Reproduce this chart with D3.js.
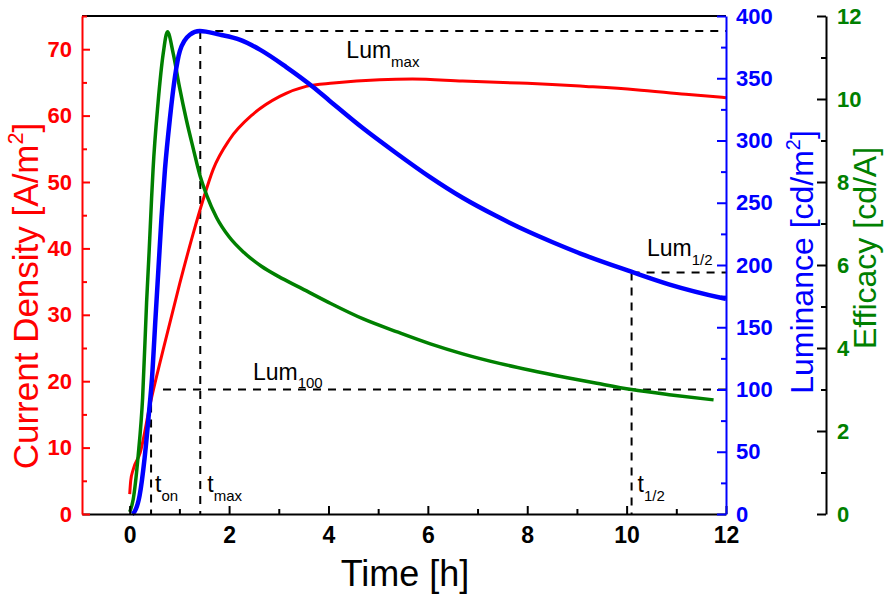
<!DOCTYPE html>
<html>
<head>
<meta charset="utf-8">
<script src="https://cdn.jsdelivr.net/npm/d3@7"></script>
<style>
    body { margin: 0; background: #fff; }
    text { font-family: 'Liberation Sans', Arial, sans-serif; }
</style>
</head>
<body>
<div class="oled-chart"></div>
<script>
// current density (left axis)
const curTime = [0, 0.02, 0.07, 0.21, 0.41, 0.675, 1.01, 1.28, 1.48, 1.68, 2.01, 2.48, 3.02, 3.55, 4.1, 5.03, 5.69, 6.7, 7.84, 8.5, 9.18, 10.18, 11.19, 12];
const curDensity = [3.0, 5.0, 6.7, 9.2, 16.5, 24.8, 34.8, 42.3, 47.4, 51.9, 56.4, 60.2, 62.9, 64.4, 64.9, 65.4, 65.5, 65.2, 64.9, 64.7, 64.4, 63.9, 63.2, 62.7];

// luminance (blue axis)
const lumTime = [0.05, 0.1, 0.2, 0.3, 0.38, 0.45, 0.52, 0.58, 0.64, 0.71, 0.81, 0.91, 1.01, 1.21, 1.41, 1.81, 2.21, 2.62, 3.15, 3.69, 4.02, 4.69, 5.36, 6.03, 6.7, 7.37, 8.04, 8.5, 9.18, 10.08, 10.85, 11.92, 12];
const luminance = [0, 2, 15, 45, 78, 110, 158, 198, 238, 277, 318, 351, 372, 385, 388, 385, 381, 373, 359, 343, 332, 310, 290, 271, 254, 239.5, 226.5, 218.5, 207.5, 194.8, 184.5, 173.5, 172.8];

// efficacy (green axis)
const effTime = [0, 0.07, 0.17, 0.26, 0.34, 0.39, 0.44, 0.47, 0.57, 0.675, 0.76, 0.875, 1.0, 1.14, 1.28, 1.42, 1.55, 1.75, 2.0, 2.3, 2.65, 3.0, 3.42, 4.0, 4.7, 5.4, 6.05, 6.7, 7.44, 8.04, 8.78, 9.4, 10.1, 10.9, 11.75];
const efficacy = [0.05, 0.35, 1.4, 2.8, 5.1, 6.3, 7.6, 8.3, 9.9, 11.1, 11.62, 11.1, 10.3, 9.5, 8.8, 8.13, 7.68, 7.14, 6.68, 6.3, 5.97, 5.72, 5.46, 5.1, 4.7, 4.38, 4.1, 3.86, 3.63, 3.47, 3.29, 3.15, 3.0, 2.87, 2.75];

// marker times (t_on, t_max, t_1/2) and luminance levels (Lum_100, Lum_max, Lum_1/2)
const markerTimes = [0.43, 1.42, 10.1];
const markerLums = [100, 388, 194];

// tick values
const timeTicks = [0, 2, 4, 6, 8, 10, 12];
const timeMinor = [1, 3, 5, 7, 9, 11];
const curTicks = [0, 10, 20, 30, 40, 50, 60, 70];
const curMinor = [5, 15, 25, 35, 45, 55, 65, 75];
const lumTicks = [0, 50, 100, 150, 200, 250, 300, 350, 400];
const lumMinor = [25, 75, 125, 175, 225, 275, 325, 375];
const effTicks = [0, 2, 4, 6, 8, 10, 12];
const effMinor = [1, 3, 5, 7, 9, 11];

const RED = '#ff0000';
const BLUE = '#0000ff';
const GREEN = '#008000';

createChart();

function createChart() {
    const width = 886;
    const height = 596;
    const left = 82, right = 726, top = 16, bottom = 514;
    const effAxisX = 826;

    const svg = d3.select('.oled-chart')
        .append('svg')
        .attr('width', width)
        .attr('height', height);

    const x = d3.scaleLinear().domain([-0.96, 12]).range([left, right]);
    const yCur = d3.scaleLinear().domain([0, 75]).range([bottom, top]);
    const yLum = d3.scaleLinear().domain([0, 400]).range([bottom, top]);
    const yEff = d3.scaleLinear().domain([0, 12]).range([bottom, top]);

    // dashed guide lines
    const [tOn, tMax, tHalf] = markerTimes;
    const [lum100, lumMax, lumHalf] = markerLums;
    const guides = [
        [[tMax, lumMax], [12, lumMax]],
        [[tMax, lumMax], [tMax, 0]],
        [[0.67, lum100], [12, lum100]],
        [[tOn, lum100], [tOn, 0]],
        [[tHalf, lumHalf], [12, lumHalf]],
        [[tHalf, lumHalf], [tHalf, 0]]
    ];
    svg.selectAll('.guide')
        .data(guides)
        .enter()
        .append('line')
        .attr('class', 'guide')
        .attr('x1', d => x(d[0][0]))
        .attr('y1', d => yLum(d[0][1]))
        .attr('x2', d => x(d[1][0]))
        .attr('y2', d => yLum(d[1][1]))
        .attr('stroke', '#000')
        .attr('stroke-width', 2)
        .attr('stroke-dasharray', '8,7');

    // curves
    const series = [
        { t: curTime, v: curDensity, y: yCur, color: RED, w: 3 },
        { t: effTime, v: efficacy, y: yEff, color: GREEN, w: 3.5 },
        { t: lumTime, v: luminance, y: yLum, color: BLUE, w: 4.5 }
    ];
    series.forEach(s => {
        const line = d3.line()
            .x((d, i) => x(s.t[i]))
            .y(d => s.y(d))
            .curve(d3.curveMonotoneX);
        svg.append('path')
            .datum(s.v)
            .attr('d', line)
            .attr('fill', 'none')
            .attr('stroke', s.color)
            .attr('stroke-width', s.w)
            .attr('stroke-linejoin', 'round');
    });

    // axes
    function styleAxis(g, color, labelColor, size) {
        g.select('.domain').attr('stroke', color).attr('stroke-width', 2);
        g.selectAll('.tick line').attr('stroke', color).attr('stroke-width', 2);
        g.selectAll('.tick text')
            .attr('fill', labelColor)
            .attr('font-size', size)
            .attr('font-weight', 'bold')
            .attr('font-family', "'Liberation Sans', Arial, sans-serif");
    }
    function minor(g, axis, values, color) {
        g.call(axis.tickValues(values).tickSize(-5).tickFormat(''));
        g.select('.domain').remove();
        g.selectAll('.tick line').attr('stroke', color).attr('stroke-width', 2);
    }

    // top border
    svg.append('line')
        .attr('x1', left).attr('x2', right)
        .attr('y1', top).attr('y2', top)
        .attr('stroke', '#000')
        .attr('stroke-width', 2);

    // bottom - time
    const xAxis = svg.append('g')
        .attr('transform', `translate(0,${bottom})`)
        .call(d3.axisBottom(x).tickValues(timeTicks).tickSize(-8).tickSizeOuter(0).tickPadding(13));
    styleAxis(xAxis, '#000', '#000', 23);
    minor(svg.append('g').attr('transform', `translate(0,${bottom})`), d3.axisBottom(x), timeMinor, '#000');

    // left - current density
    const curAxis = svg.append('g')
        .attr('transform', `translate(${left},0)`)
        .call(d3.axisLeft(yCur).tickValues(curTicks).tickSize(-8).tickSizeOuter(0).tickPadding(10));
    styleAxis(curAxis, RED, RED, 22);
    minor(svg.append('g').attr('transform', `translate(${left},0)`), d3.axisLeft(yCur), curMinor, RED);

    // right - luminance
    const lumAxis = svg.append('g')
        .attr('transform', `translate(${right},0)`)
        .call(d3.axisRight(yLum).tickValues(lumTicks).tickSize(-9).tickSizeOuter(0).tickPadding(10));
    styleAxis(lumAxis, BLUE, BLUE, 22);
    minor(svg.append('g').attr('transform', `translate(${right},0)`), d3.axisRight(yLum), lumMinor, BLUE);

    // far right - efficacy
    const effAxis = svg.append('g')
        .attr('transform', `translate(${effAxisX},0)`)
        .call(d3.axisRight(yEff).tickValues(effTicks).tickSize(-9).tickSizeOuter(0).tickPadding(11));
    styleAxis(effAxis, '#000', GREEN, 22);
    minor(svg.append('g').attr('transform', `translate(${effAxisX},0)`), d3.axisRight(yEff), effMinor, '#000');

    // axis titles
    svg.append('text')
        .attr('x', 405)
        .attr('y', 586)
        .attr('text-anchor', 'middle')
        .attr('font-size', 36)
        .text('Time [h]');

    function rotatedTitle(cx, cy, color, size, main, rest) {
        const t = svg.append('text')
            .attr('transform', `translate(${cx},${cy}) rotate(-90)`)
            .attr('text-anchor', 'middle')
            .attr('font-size', size)
            .attr('fill', color);
        t.append('tspan').text(main);
        if (rest) {
            t.append('tspan').attr('font-size', size * 0.62).attr('dy', -size * 0.42).text('2');
            t.append('tspan').attr('dy', size * 0.42).text(rest);
        }
    }
    rotatedTitle(38, 296, RED, 35, 'Current Density [A/m', ']');
    rotatedTitle(813, 262, BLUE, 32, 'Luminance [cd/m', ']');
    rotatedTitle(876, 248, GREEN, 32, 'Efficacy [cd/A]', null);

    // annotations
    function label(px, py, main, sub, size, subSize) {
        const t = svg.append('text')
            .attr('x', px)
            .attr('y', py)
            .attr('font-size', size)
            .attr('fill', '#000');
        t.append('tspan').text(main);
        t.append('tspan').attr('font-size', subSize).attr('dy', size * 0.38).text(sub);
    }
    label(x(4.36), yLum(lumMax) + 27, 'Lum', 'max', 23, 15);
    label(x(2.48), yLum(lum100) - 10, 'Lum', '100', 23, 15);
    label(x(10.41), yLum(lumHalf) - 16, 'Lum', '1/2', 23, 15);
    label(x(tOn) + 4, 492, 't', 'on', 23, 15);
    label(x(tMax) + 7, 492, 't', 'max', 23, 15);
    label(x(tHalf) + 6, 492, 't', '1/2', 23, 15);
}
</script>
</body>
</html>
